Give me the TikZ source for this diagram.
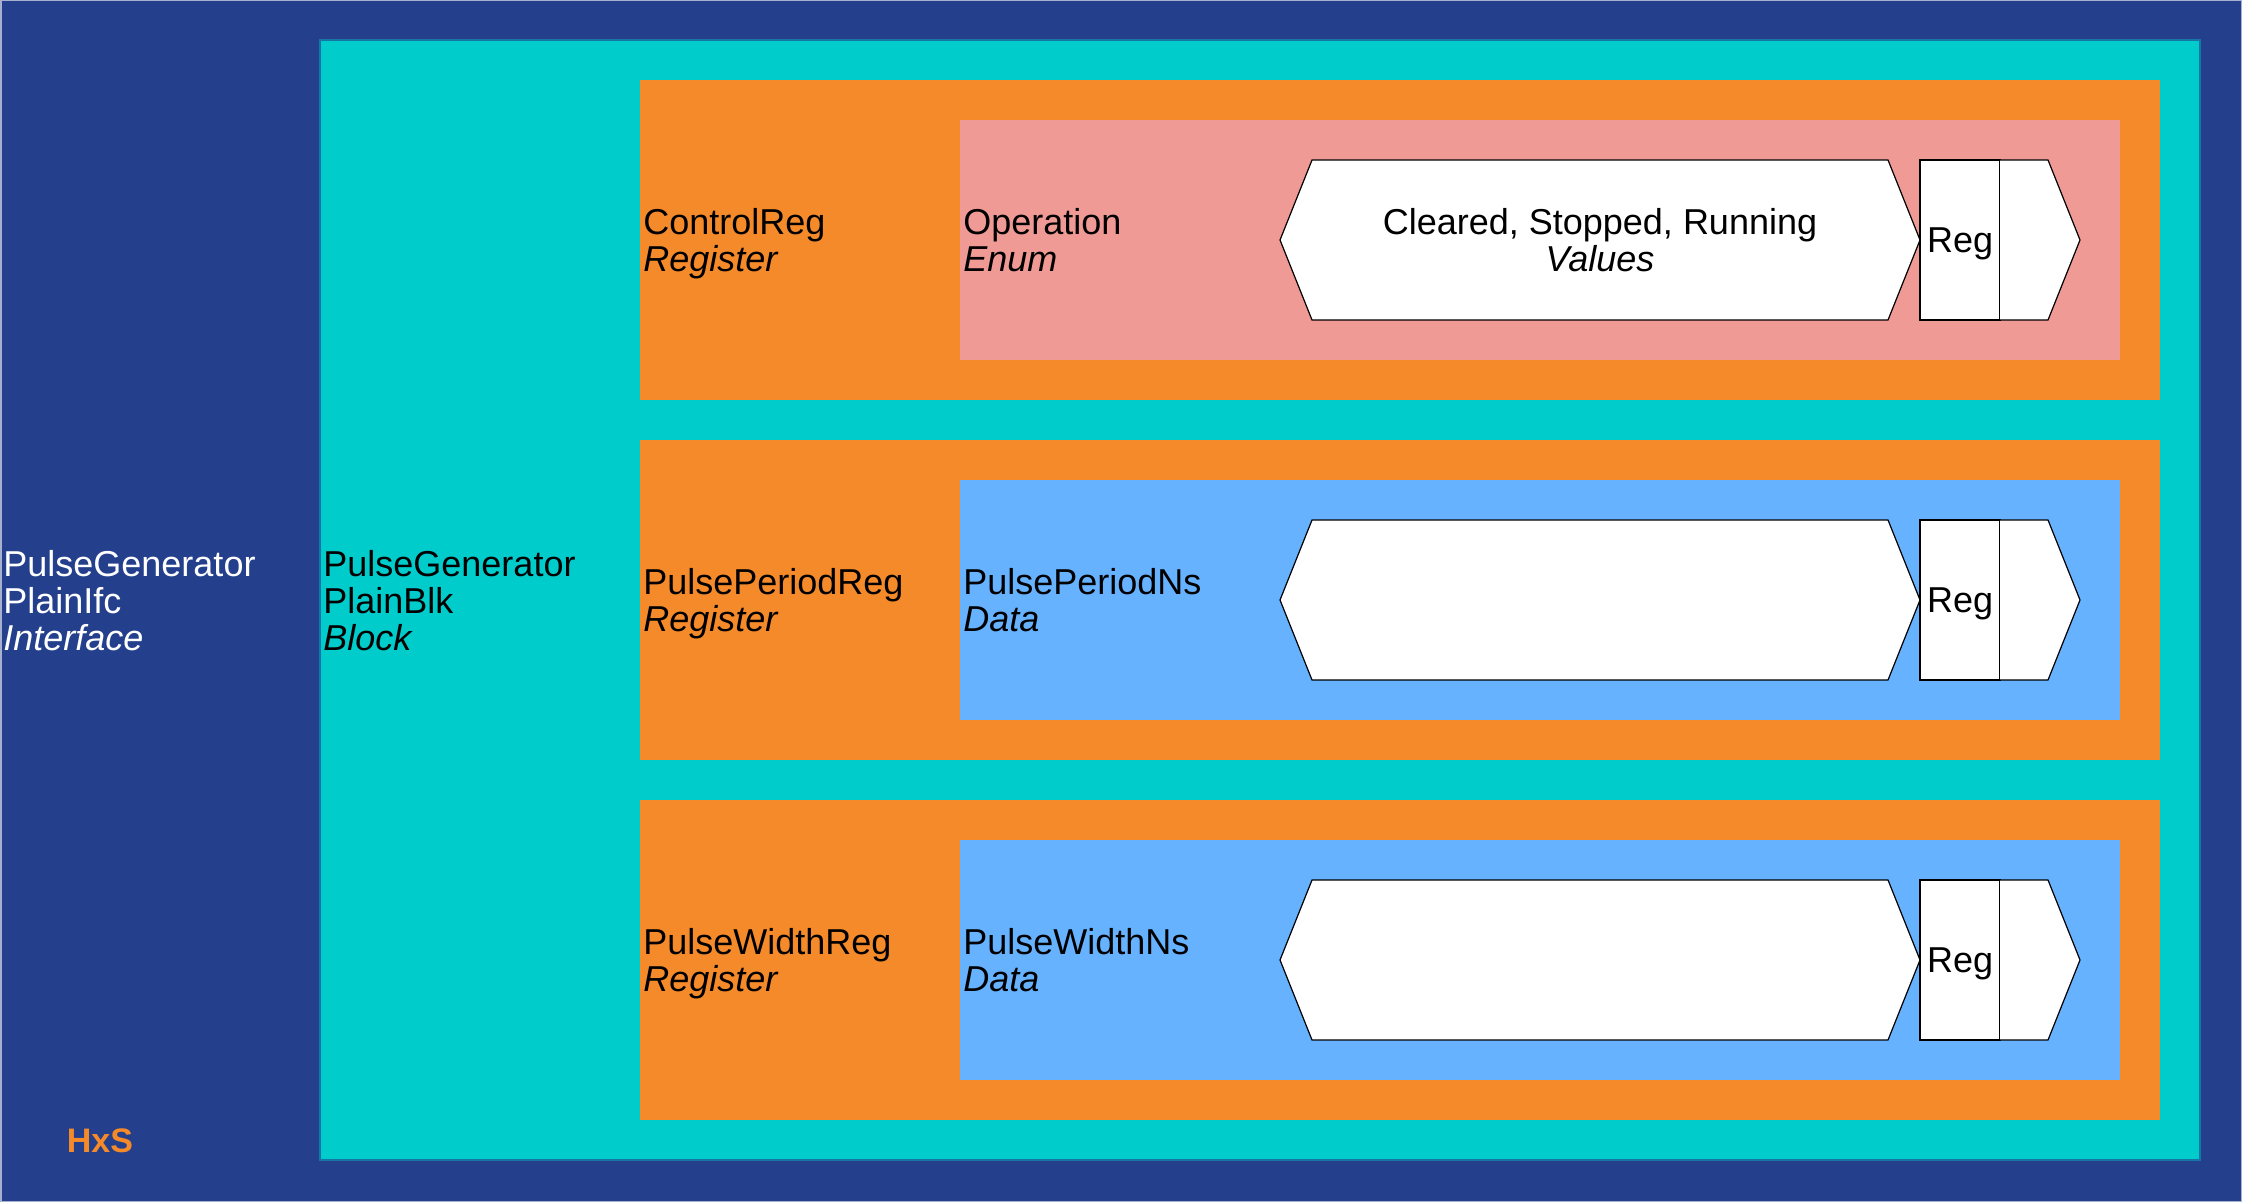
\documentclass[tikz,border=0pt]{standalone}
\usepackage{fontspec}
\setmainfont{Liberation Sans}
\definecolor{hxsblue}{HTML}{243F8C}
\definecolor{hxscyan}{HTML}{00CCCC}
\definecolor{hxsorange}{HTML}{F58A2A}
\definecolor{hxspink}{HTML}{F09A96}
\definecolor{hxslight}{HTML}{66B2FF}
\definecolor{hxsedge}{HTML}{A8B0D0}
\begin{document}
\begin{tikzpicture}[x=0.5pt,y=-0.5pt,
  lbl/.style={inner sep=0pt, anchor=west, align=left, text depth=0pt, font=\fontsize{18}{18.5}\selectfont},
  ctr/.style={inner sep=0pt, align=center, text depth=0pt, font=\fontsize{18}{18.5}\selectfont},
  shapeline/.style={draw=black, fill=white, line width=0.6pt, line join=miter}]
\useasboundingbox (0,0) rectangle (2242,1202);
\fill[hxsblue] (0,0) rectangle (2242,1202);
\draw[hxsedge, line width=1pt] (0.5,0.5) rectangle (2241.5,1201.5);
\fill[hxscyan, draw=hxsblue!60!hxscyan, line width=0.6pt] (320,40) rectangle (2200,1160);
\node[lbl, text=white] (ifc) at (3,600) {PulseGenerator\\PlainIfc\\\textit{Interface}};
\node[lbl] (blk) at (323,600) {PulseGenerator\\PlainBlk\\\textit{Block}};
\foreach \i/\reg/\dat/\kind/\col in {0/ControlReg/Operation/Enum/hxspink,
    1/PulsePeriodReg/PulsePeriodNs/Data/hxslight,
    2/PulseWidthReg/PulseWidthNs/Data/hxslight}{
  \pgfmathsetmacro\oy{\i*360}
  \begin{scope}[yshift={-\oy*0.5pt}]
    \fill[hxsorange] (640,80) rectangle (2160,400);
    \fill[\col] (960,120) rectangle (2120,360);
    \draw[shapeline] (1280,240) -- (1312,160) -- (1888,160) -- (1920,240) -- (1888,320) -- (1312,320) -- cycle;
    \draw[shapeline] (1920,160) rectangle (2000,320);
    \draw[shapeline] (2000,160) -- (2048,160) -- (2080,240) -- (2048,320) -- (2000,320);
    \node[lbl] (reg\i) at (643,240) {\reg\\\textit{Register}};
    \node[lbl] (dat\i) at (963,240) {\dat\\\textit{\kind}};
    \node[ctr] (regbox\i) at (1960,240) {Reg};
  \end{scope}
}
\node[ctr] (vals) at (1600,240) {Cleared, Stopped, Running\\\textit{Values}};
\node[inner sep=0pt, text=hxsorange, font=\bfseries\fontsize{17}{17}\selectfont] (logo) at (100,1141) {HxS};
\end{tikzpicture}
\end{document}
